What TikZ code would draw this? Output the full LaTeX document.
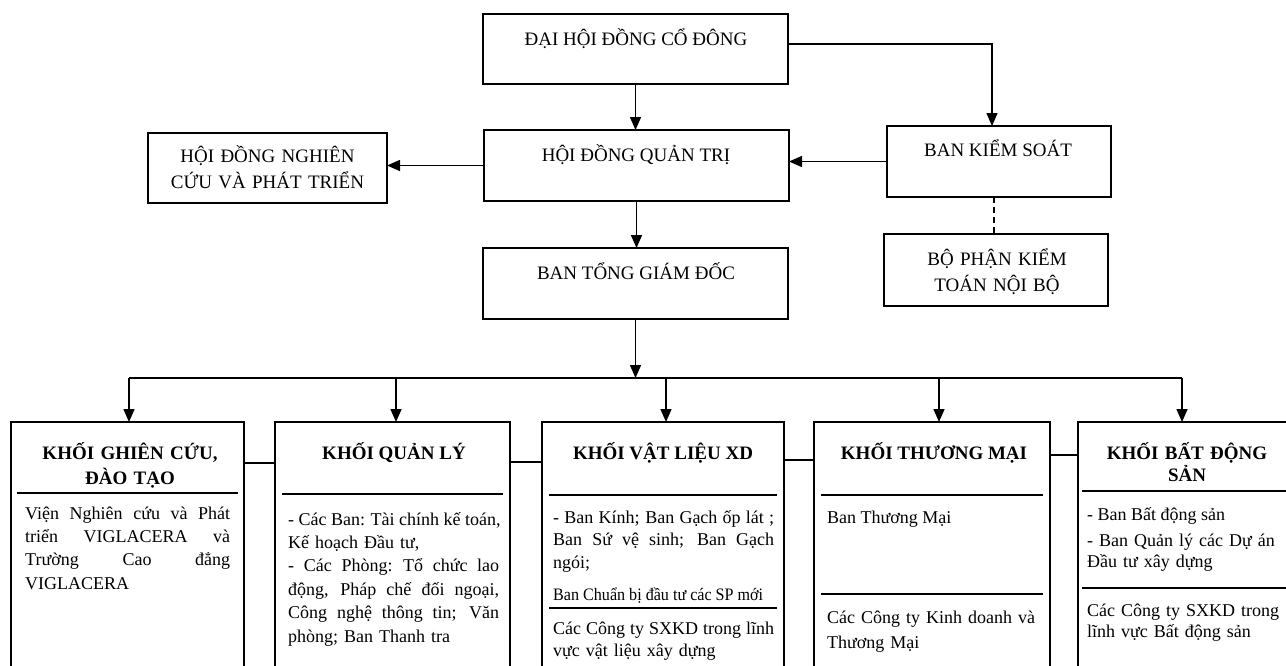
\documentclass[tikz,border=0pt]{standalone}
\usepackage{fontspec}
\setmainfont{Liberation Serif}
\newfontfamily\condfont[FakeStretch=0.92]{Liberation Serif}
\usetikzlibrary{arrows.meta,calc}
\tikzset{
  boxs/.style={draw, line width=1.7pt, rectangle, inner sep=0pt, outer sep=0pt, anchor=north west},
  toptxt/.style={inner sep=0pt, anchor=base, align=center, font=\fontsize{19}{26}\selectfont},
  ttl/.style={inner sep=0pt, anchor=base, align=center, font=\bfseries\fontsize{19}{24}\selectfont},
  bodytxt/.style={inner sep=0pt, anchor=base west, align=left, font=\fontsize{18}{23.4}\selectfont},
  arr/.style={line width=1.5pt, -{Triangle[length=13pt,width=11pt]}},
  lnk/.style={line width=1.5pt},
  sepline/.style={line width=1.5pt},
  dsh/.style={line width=1.5pt, dash pattern=on 6pt off 4pt}
}
\newcommand{\jl}[2]{\leavevmode\hbox to #1pt{\spaceskip=.25em plus 1fil\xspaceskip=.3em plus 1fil\relax #2}}
\begin{document}
\begin{tikzpicture}[x=1pt,y=-1pt]
\useasboundingbox (0,0) rectangle (1286,665);
\clip (0,0) rectangle (1286,665);
\fill[white] (0,0) rectangle (1286,665);

% top level boxes
\node[boxs, minimum width=305pt, minimum height=70pt] (dh) at (483,14) {};
\node[boxs, minimum width=305pt, minimum height=71pt] (hdqt) at (484,130) {};
\node[boxs, minimum width=305pt, minimum height=71pt] (btgd) at (483,248) {};
\node[boxs, minimum width=239pt, minimum height=70pt] (hdnc) at (148,133) {};
\node[boxs, minimum width=224pt, minimum height=71pt] (bks) at (887,126) {};
\node[boxs, minimum width=224pt, minimum height=72pt] (bp) at (884,234) {};

\node[toptxt] (dht) at (636,45) {ĐẠI HỘI ĐỒNG CỔ ĐÔNG};
\node[toptxt] (hdqtt) at (636,161) {HỘI ĐỒNG QUẢN TRỊ};
\node[toptxt] (btgdt) at (636,279) {BAN TỔNG GIÁM ĐỐC};
\node[toptxt, text width=239pt] (hdnct) at (267.5,162) {HỘI ĐỒNG NGHIÊN\\CỨU VÀ PHÁT TRIỂN};
\node[toptxt] (bkst) at (998,156) {BAN KIỂM SOÁT};
\node[toptxt, text width=224pt] (bpt) at (997,265) {BỘ PHẬN KIỂM\\TOÁN NỘI BỘ};

% top connectors
\draw[arr] (dh.south) -- (dh.south |- hdqt.north);
\draw[arr] ([yshift=5pt]dh.east) -| ([xshift=-7pt]bks.north);
\draw[arr] (hdqt.west) -- (hdqt.west -| hdnc.east);
\draw[arr] (bks.west) -- (bks.west -| hdqt.east);
\draw[dsh] ([xshift=-5pt]bks.south) -- ([xshift=-5pt]bks.south |- bp.north);
\draw[arr] (hdqt.south) -- (hdqt.south |- btgd.north);

% bus
\coordinate (d1) at (129,378);
\coordinate (d2) at (396,378);
\coordinate (d3) at (666,378);
\coordinate (d4) at (939,378);
\coordinate (d5) at (1182,378);
\draw[arr] (btgd.south) -- (btgd.south |- d3);
\draw[lnk] (d1) -- (d5);

% bottom boxes
\node[boxs, minimum width=233pt, minimum height=300pt] (b1) at (11,422) {};
\node[boxs, minimum width=235pt, minimum height=300pt] (b2) at (275,422) {};
\node[boxs, minimum width=242pt, minimum height=300pt] (b3) at (542,422) {};
\node[boxs, minimum width=236pt, minimum height=300pt] (b4) at (814,422) {};
\node[boxs, minimum width=216pt, minimum height=300pt] (b5) at (1078,422) {};

\draw[arr] (d1) -- (d1 |- b1.north);
\draw[arr] (d2) -- (d2 |- b2.north);
\draw[arr] (d3) -- (d3 |- b3.north);
\draw[arr] (d4) -- (d4 |- b4.north);
\draw[arr] (d5) -- (d5 |- b5.north);

% links between bottom boxes
\draw[lnk] ($(b1.north east)+(0,41)$) -- ($(b2.north west)+(0,41)$);
\draw[lnk] ($(b2.north east)+(0,40)$) -- ($(b3.north west)+(0,40)$);
\draw[lnk] ($(b3.north east)+(0,38)$) -- ($(b4.north west)+(0,38)$);
\draw[lnk] ($(b4.north east)+(0,33)$) -- ($(b5.north west)+(0,33)$);

% titles
\node[ttl, text width=233pt, font=\bfseries\fontsize{19}{25}\selectfont] (t1) at (130,459) {KHỐI GHIÊN CỨU,\\ĐÀO TẠO};
\node[ttl] (t2) at (394,459) {KHỐI QUẢN LÝ};
\node[ttl] (t3) at (663,459) {KHỐI VẬT LIỆU XD};
\node[ttl] (t4) at (934,459) {KHỐI THƯƠNG MẠI};
\node[ttl, text width=214pt, font=\bfseries\fontsize{19}{22}\selectfont] (t5) at (1187,459) {KHỐI BẤT ĐỘNG\\SẢN};

% separators
\draw[sepline] ($(b1.north west)+(6,71)$) -- ($(b1.north east)+(-6,71)$);
\draw[sepline] ($(b2.north west)+(7,72)$) -- ($(b2.north east)+(-7,72)$);
\draw[sepline] ($(b3.north west)+(7,73)$) -- ($(b3.north east)+(-7,73)$);
\draw[sepline] ($(b3.north west)+(7,186)$) -- ($(b3.north east)+(-7,186)$);
\draw[sepline] ($(b4.north west)+(7,73)$) -- ($(b4.north east)+(-7,73)$);
\draw[sepline] ($(b4.north west)+(7,172)$) -- ($(b4.north east)+(-7,172)$);
\draw[sepline] ($(b5.north west)+(4,69)$) -- ($(b5.north east)+(-4,69)$);
\draw[sepline] ($(b5.north west)+(4,166)$) -- ($(b5.north east)+(-4,166)$);

% body texts
\node[bodytxt, text width=205pt] (x1) at (25,519) {\jl{205}{Viện Nghiên cứu và Phát}\\\jl{205}{triển VIGLACERA và}\\\jl{205}{Trường Cao đẳng}\\VIGLACERA};
\node[bodytxt, text width=212pt] (x2) at (288,525) {\jl{211}{- Các Ban: Tài chính kế toán,}\\Kế hoạch Đầu tư,\\\jl{211}{- Các Phòng: Tổ chức lao}\\\jl{211}{động, Pháp chế đối ngoại,}\\\jl{211}{Công nghệ thông tin; Văn}\\phòng; Ban Thanh tra};
\node[bodytxt, text width=222pt, font=\fontsize{18}{22.5}\selectfont] (x3a) at (553,523) {\jl{221}{- Ban Kính; Ban Gạch ốp lát ;}\\\jl{221}{Ban Sứ vệ sinh; Ban Gạch}\\ngói;};
\node[bodytxt, font=\condfont\fontsize{17.5}{20}\selectfont] (x3b) at (553,600) {Ban Chuẩn bị đầu tư các SP mới};
\node[bodytxt, text width=222pt, font=\fontsize{18}{22}\selectfont] (x3c) at (553,634) {\jl{221}{Các Công ty SXKD trong lĩnh}\\vực vật liệu xây dựng};
\node[bodytxt] (x4a) at (827,523) {Ban Thương Mại};
\node[bodytxt, text width=215pt, font=\fontsize{18}{25}\selectfont] (x4b) at (827,623) {Các Công ty Kinh doanh và\\Thương Mại};
\node[bodytxt] (x5a) at (1087,520) {- Ban Bất động sản};
\node[bodytxt, text width=195pt, font=\fontsize{18}{21}\selectfont] (x5b) at (1087,546) {- Ban Quản lý các Dự án\\Đầu tư xây dựng};
\node[bodytxt, text width=195pt, font=\fontsize{18}{21.5}\selectfont] (x5c) at (1087,616) {Các Công ty SXKD trong\\lĩnh vực Bất động sản};
\end{tikzpicture}
\end{document}
